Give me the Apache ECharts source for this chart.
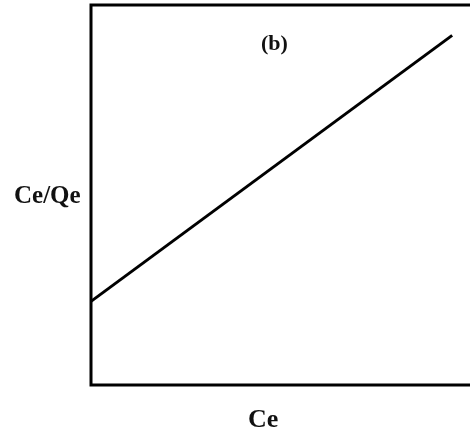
<!DOCTYPE html>
<html>
<head>
<meta charset="utf-8">
<style>
  html, body { margin: 0; padding: 0; background: #fff; overflow: hidden; }
  #chart { width: 480px; height: 439px; }
</style>
<script src="https://cdn.jsdelivr.net/npm/echarts@6/dist/echarts.min.js"></script>
</head>
<body>
<div id="chart"></div>
<script>
// Linearised Langmuir plot: Ce/Qe against Ce
const ceValues = [0, 9.43];
const ceQeValues = [2.2, 9.2];
const panelLabel = '(b)';
const xAxisName = 'Ce';
const yAxisName = 'Ce/Qe';

const chart = echarts.init(document.getElementById('chart'), null, { renderer: 'canvas' });
const serif = '"Liberation Serif", "DejaVu Serif", serif';

chart.setOption({
  animation: false,
  backgroundColor: '#fff',
  grid: {
    left: 91, top: 5, right: 6, bottom: 54,
    show: true, borderWidth: 3, borderColor: '#000', backgroundColor: 'transparent'
  },
  xAxis: {
    type: 'value', min: 0, max: 10,
    axisLine: { show: false }, axisTick: { show: false },
    axisLabel: { show: false }, splitLine: { show: false }
  },
  yAxis: {
    type: 'value', min: 0, max: 10,
    axisLine: { show: false }, axisTick: { show: false },
    axisLabel: { show: false }, splitLine: { show: false }
  },
  graphic: [
    { type: 'text', left: 261, top: 33,
      style: { text: panelLabel, font: 'bold 22px ' + serif, fill: '#111' } },
    { type: 'text', left: 14, top: 184,
      style: { text: yAxisName, font: 'bold 25px ' + serif, fill: '#111' } },
    { type: 'text', left: 248, top: 407,
      style: { text: xAxisName, font: 'bold 26px ' + serif, fill: '#111' } }
  ],
  series: [{
    type: 'line',
    data: ceValues.map((x, i) => [x, ceQeValues[i]]),
    symbol: 'none',
    lineStyle: { color: '#000', width: 3 }
  }]
});
</script>
</body>
</html>
